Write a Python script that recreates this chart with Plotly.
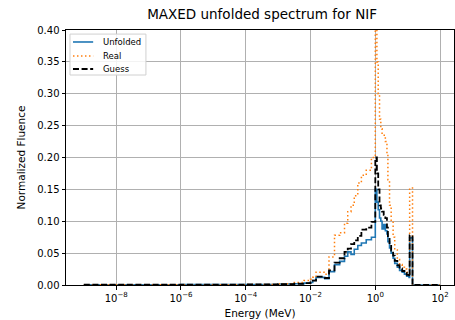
import plotly.graph_objects as go

# Bin edges (MeV)
energy_edges = [1e-9, 1e-8, 1e-7, 1e-6, 1e-5, 1e-4, 1e-3, 0.00316, 0.00631, 0.0100,
                0.0117, 0.0148, 0.0275, 0.0372, 0.0550, 0.0794, 0.112, 0.141, 0.178, 0.224,
                0.288, 0.372, 0.525, 0.759, 1.00, 1.12, 1.23, 1.35, 1.48, 1.62,
                1.82, 2.04, 2.29, 2.45, 2.75, 3.09, 3.55, 3.98, 4.79, 5.62,
                6.76, 7.94, 9.33, 11.0, 11.5, 14.1, 20.0, 100.0]

unfolded = [0.0005, 0.0005, 0.0005, 0.0006, 0.0007, 0.0009, 0.0015, 0.002, 0.003, 0.004,
            0.007, 0.012, 0.010, 0.021, 0.032, 0.037, 0.045, 0.052, 0.048, 0.056,
            0.062, 0.066, 0.071, 0.075, 0.150, 0.130, 0.118, 0.105, 0.100, 0.088,
            0.095, 0.085, 0.080, 0.068, 0.058, 0.050, 0.042, 0.034, 0.028, 0.023,
            0.020, 0.017, 0.014, 0.012, 0.074, 0.0, 0.0]

guess = [0.0005, 0.0005, 0.0005, 0.0006, 0.0007, 0.0009, 0.0015, 0.002, 0.003, 0.004,
         0.007, 0.013, 0.011, 0.023, 0.035, 0.042, 0.052, 0.057, 0.064, 0.070,
         0.077, 0.087, 0.090, 0.099, 0.200, 0.175, 0.150, 0.125, 0.120, 0.115,
         0.110, 0.105, 0.090, 0.075, 0.063, 0.054, 0.046, 0.038, 0.031, 0.026,
         0.022, 0.019, 0.016, 0.013, 0.078, 0.0, 0.0]

real = [0.0003, 0.0003, 0.0003, 0.0004, 0.0005, 0.0008, 0.002, 0.004, 0.007, 0.009,
        0.012, 0.020, 0.017, 0.044, 0.078, 0.082, 0.097, 0.115, 0.125, 0.140,
        0.160, 0.172, 0.180, 0.200, 0.46, 0.35, 0.30, 0.26, 0.245, 0.235,
        0.235, 0.225, 0.205, 0.165, 0.125, 0.100, 0.075, 0.055, 0.040, 0.032,
        0.028, 0.025, 0.020, 0.018, 0.152, 0.0, 0.0]

series_names = ["Unfolded", "Real", "Guess"]

x_tickvals = [1e-8, 1e-6, 1e-4, 1e-2, 1e0, 1e2]
x_ticktext = ["10<sup>\u22128</sup>", "10<sup>\u22126</sup>", "10<sup>\u22124</sup>",
              "10<sup>\u22122</sup>", "10<sup>0</sup>", "10<sup>2</sup>"]
y_tickvals = [0.0, 0.05, 0.10, 0.15, 0.20, 0.25, 0.30, 0.35, 0.40]

styles = [
    dict(color="#1f77b4", width=1.6),
    dict(color="#ff7f0e", width=1.5, dash="1.5px,2.5px"),
    dict(color="black", width=1.8, dash="6px,2.6px"),
]


def stepped(vals):
    return list(vals) + [vals[-1]]


fig = go.Figure()
for name, vals, st in zip(series_names, [unfolded, real, guess], styles):
    fig.add_trace(go.Scatter(x=energy_edges, y=stepped(vals), mode="lines", line_shape="hv",
                             name=name, line=st, showlegend=False))

# custom legend (matplotlib-like compact box)
fig.add_shape(type="rect", xref="paper", yref="paper", x0=0.0103, x1=0.206,
              y0=0.8235, y1=0.984, line=dict(color="#d0d0d0", width=1),
              fillcolor="rgba(255,255,255,0.85)", layer="above")
row_y = [0.953, 0.898, 0.847]
for name, st, yy in zip(series_names, styles, row_y):
    fig.add_shape(type="line", xref="paper", yref="paper", x0=0.018, x1=0.070,
                  y0=yy, y1=yy, line=st, layer="above")
    fig.add_annotation(text=name, xref="paper", yref="paper", x=0.090, y=yy,
                       xanchor="left", yanchor="middle", showarrow=False,
                       font=dict(size=8.5, family="DejaVu Sans", color="black"))

font = "DejaVu Sans"
fig.update_layout(
    width=455, height=320,
    margin=dict(l=66, r=1, t=30, b=35),
    paper_bgcolor="white", plot_bgcolor="white",
    font=dict(family=font, size=10, color="black"),
    title=dict(text="MAXED unfolded spectrum for NIF", x=0.576, xanchor="center",
               y=0.955, yanchor="middle", font=dict(size=13.5)),
    showlegend=False,
)
fig.update_xaxes(type="log", range=[-9.55, 2.43], tickvals=x_tickvals, ticktext=x_ticktext,
                 showgrid=True, gridcolor="#b0b0b0", gridwidth=1,
                 showline=True, linecolor="black", linewidth=1, mirror=True,
                 ticks="outside", ticklen=3.5, tickcolor="black",
                 title=dict(text="Energy (MeV)", standoff=7, font=dict(size=10.5)),
                 zeroline=False)
fig.update_yaxes(range=[0, 0.4], tickvals=y_tickvals, tickformat=".2f",
                 showgrid=True, gridcolor="#b0b0b0", gridwidth=1,
                 showline=True, linecolor="black", linewidth=1, mirror=True,
                 ticks="outside", ticklen=3.5, tickcolor="black",
                 title=dict(text="Normalized Fluence", standoff=9, font=dict(size=10.5)),
                 zeroline=False)

fig.write_html("out.html")
